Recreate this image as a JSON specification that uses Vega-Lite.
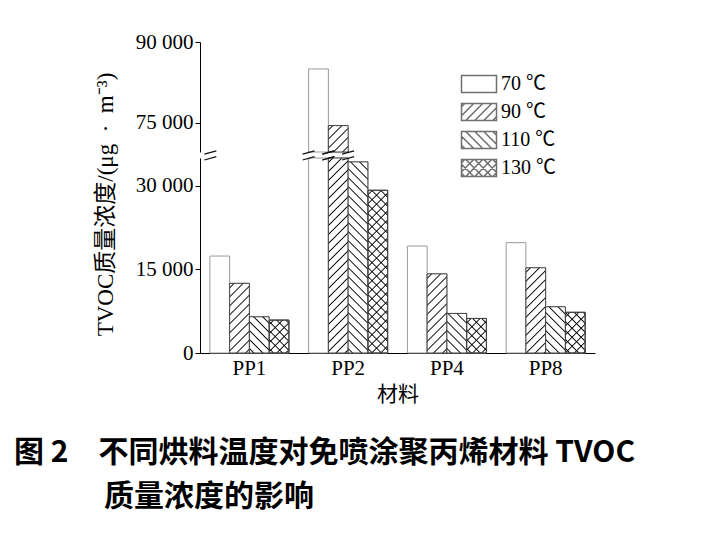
{
"$schema": "https://vega.github.io/schema/vega-lite/v6.json",
"autosize": {"type": "none"},
"padding": {"left": 200, "top": 42, "right": 130, "bottom": 191},
"width": 395,
"height": 311,
"background": "white",
"config": {"view": {"stroke": null}, "font": "Liberation Serif"},
"params": [
{"name": "hatchW", "value": [
{"offset":0.015,"color":"#fff"},{"offset":0.021,"color":"#000"},{"offset":0.027,"color":"#fff"},
{"offset":0.0567,"color":"#fff"},{"offset":0.0627,"color":"#000"},{"offset":0.0687,"color":"#fff"},
{"offset":0.0983,"color":"#fff"},{"offset":0.1043,"color":"#000"},{"offset":0.1103,"color":"#fff"},
{"offset":0.14,"color":"#fff"},{"offset":0.146,"color":"#000"},{"offset":0.152,"color":"#fff"},
{"offset":0.1817,"color":"#fff"},{"offset":0.1877,"color":"#000"},{"offset":0.1937,"color":"#fff"},
{"offset":0.2233,"color":"#fff"},{"offset":0.2293,"color":"#000"},{"offset":0.2353,"color":"#fff"},
{"offset":0.265,"color":"#fff"},{"offset":0.271,"color":"#000"},{"offset":0.277,"color":"#fff"},
{"offset":0.3067,"color":"#fff"},{"offset":0.3127,"color":"#000"},{"offset":0.3187,"color":"#fff"},
{"offset":0.3483,"color":"#fff"},{"offset":0.3543,"color":"#000"},{"offset":0.3603,"color":"#fff"},
{"offset":0.39,"color":"#fff"},{"offset":0.396,"color":"#000"},{"offset":0.402,"color":"#fff"},
{"offset":0.4317,"color":"#fff"},{"offset":0.4377,"color":"#000"},{"offset":0.4437,"color":"#fff"},
{"offset":0.4733,"color":"#fff"},{"offset":0.4793,"color":"#000"},{"offset":0.4853,"color":"#fff"},
{"offset":0.515,"color":"#fff"},{"offset":0.521,"color":"#000"},{"offset":0.527,"color":"#fff"},
{"offset":0.5567,"color":"#fff"},{"offset":0.5627,"color":"#000"},{"offset":0.5687,"color":"#fff"},
{"offset":0.5983,"color":"#fff"},{"offset":0.6043,"color":"#000"},{"offset":0.6103,"color":"#fff"},
{"offset":0.64,"color":"#fff"},{"offset":0.646,"color":"#000"},{"offset":0.652,"color":"#fff"},
{"offset":0.6817,"color":"#fff"},{"offset":0.6877,"color":"#000"},{"offset":0.6937,"color":"#fff"},
{"offset":0.7233,"color":"#fff"},{"offset":0.7293,"color":"#000"},{"offset":0.7353,"color":"#fff"},
{"offset":0.765,"color":"#fff"},{"offset":0.771,"color":"#000"},{"offset":0.777,"color":"#fff"},
{"offset":0.8067,"color":"#fff"},{"offset":0.8127,"color":"#000"},{"offset":0.8187,"color":"#fff"},
{"offset":0.8483,"color":"#fff"},{"offset":0.8543,"color":"#000"},{"offset":0.8603,"color":"#fff"},
{"offset":0.89,"color":"#fff"},{"offset":0.896,"color":"#000"},{"offset":0.902,"color":"#fff"},
{"offset":0.9317,"color":"#fff"},{"offset":0.9377,"color":"#000"},{"offset":0.9437,"color":"#fff"},
{"offset":0.9733,"color":"#fff"},{"offset":0.9793,"color":"#000"},{"offset":0.9853,"color":"#fff"}
]},
{"name": "hatchT", "value": [
{"offset":0.015,"color":"rgba(0,0,0,0)"},{"offset":0.021,"color":"#000"},{"offset":0.027,"color":"rgba(0,0,0,0)"},
{"offset":0.0567,"color":"rgba(0,0,0,0)"},{"offset":0.0627,"color":"#000"},{"offset":0.0687,"color":"rgba(0,0,0,0)"},
{"offset":0.0983,"color":"rgba(0,0,0,0)"},{"offset":0.1043,"color":"#000"},{"offset":0.1103,"color":"rgba(0,0,0,0)"},
{"offset":0.14,"color":"rgba(0,0,0,0)"},{"offset":0.146,"color":"#000"},{"offset":0.152,"color":"rgba(0,0,0,0)"},
{"offset":0.1817,"color":"rgba(0,0,0,0)"},{"offset":0.1877,"color":"#000"},{"offset":0.1937,"color":"rgba(0,0,0,0)"},
{"offset":0.2233,"color":"rgba(0,0,0,0)"},{"offset":0.2293,"color":"#000"},{"offset":0.2353,"color":"rgba(0,0,0,0)"},
{"offset":0.265,"color":"rgba(0,0,0,0)"},{"offset":0.271,"color":"#000"},{"offset":0.277,"color":"rgba(0,0,0,0)"},
{"offset":0.3067,"color":"rgba(0,0,0,0)"},{"offset":0.3127,"color":"#000"},{"offset":0.3187,"color":"rgba(0,0,0,0)"},
{"offset":0.3483,"color":"rgba(0,0,0,0)"},{"offset":0.3543,"color":"#000"},{"offset":0.3603,"color":"rgba(0,0,0,0)"},
{"offset":0.39,"color":"rgba(0,0,0,0)"},{"offset":0.396,"color":"#000"},{"offset":0.402,"color":"rgba(0,0,0,0)"},
{"offset":0.4317,"color":"rgba(0,0,0,0)"},{"offset":0.4377,"color":"#000"},{"offset":0.4437,"color":"rgba(0,0,0,0)"},
{"offset":0.4733,"color":"rgba(0,0,0,0)"},{"offset":0.4793,"color":"#000"},{"offset":0.4853,"color":"rgba(0,0,0,0)"},
{"offset":0.515,"color":"rgba(0,0,0,0)"},{"offset":0.521,"color":"#000"},{"offset":0.527,"color":"rgba(0,0,0,0)"},
{"offset":0.5567,"color":"rgba(0,0,0,0)"},{"offset":0.5627,"color":"#000"},{"offset":0.5687,"color":"rgba(0,0,0,0)"},
{"offset":0.5983,"color":"rgba(0,0,0,0)"},{"offset":0.6043,"color":"#000"},{"offset":0.6103,"color":"rgba(0,0,0,0)"},
{"offset":0.64,"color":"rgba(0,0,0,0)"},{"offset":0.646,"color":"#000"},{"offset":0.652,"color":"rgba(0,0,0,0)"},
{"offset":0.6817,"color":"rgba(0,0,0,0)"},{"offset":0.6877,"color":"#000"},{"offset":0.6937,"color":"rgba(0,0,0,0)"},
{"offset":0.7233,"color":"rgba(0,0,0,0)"},{"offset":0.7293,"color":"#000"},{"offset":0.7353,"color":"rgba(0,0,0,0)"},
{"offset":0.765,"color":"rgba(0,0,0,0)"},{"offset":0.771,"color":"#000"},{"offset":0.777,"color":"rgba(0,0,0,0)"},
{"offset":0.8067,"color":"rgba(0,0,0,0)"},{"offset":0.8127,"color":"#000"},{"offset":0.8187,"color":"rgba(0,0,0,0)"},
{"offset":0.8483,"color":"rgba(0,0,0,0)"},{"offset":0.8543,"color":"#000"},{"offset":0.8603,"color":"rgba(0,0,0,0)"},
{"offset":0.89,"color":"rgba(0,0,0,0)"},{"offset":0.896,"color":"#000"},{"offset":0.902,"color":"rgba(0,0,0,0)"},
{"offset":0.9317,"color":"rgba(0,0,0,0)"},{"offset":0.9377,"color":"#000"},{"offset":0.9437,"color":"rgba(0,0,0,0)"},
{"offset":0.9733,"color":"rgba(0,0,0,0)"},{"offset":0.9793,"color":"#000"},{"offset":0.9853,"color":"rgba(0,0,0,0)"}
]}
],
"data": {"values": [
{"material":"PP1","temp":"70 ℃","value":17400},
{"material":"PP1","temp":"90 ℃","value":12500},
{"material":"PP1","temp":"110 ℃","value":6500},
{"material":"PP1","temp":"130 ℃","value":5900},
{"material":"PP2","temp":"70 ℃","value":85000},
{"material":"PP2","temp":"90 ℃","value":74500},
{"material":"PP2","temp":"110 ℃","value":34300},
{"material":"PP2","temp":"130 ℃","value":29200},
{"material":"PP4","temp":"70 ℃","value":19200},
{"material":"PP4","temp":"90 ℃","value":14200},
{"material":"PP4","temp":"110 ℃","value":7100},
{"material":"PP4","temp":"130 ℃","value":6200},
{"material":"PP8","temp":"70 ℃","value":19800},
{"material":"PP8","temp":"90 ℃","value":15300},
{"material":"PP8","temp":"110 ℃","value":8300},
{"material":"PP8","temp":"130 ℃","value":7300}
]},
"title": {
"text": ["图 2　不同烘料温度对免喷涂聚丙烯材料 TVOC", "\u200B　　　质量浓度的影响"],
"orient": "bottom", "anchor": "start", "frame": "group",
"dx": -186, "offset": 34,
"font": "Noto Sans CJK SC", "fontSize": 30, "fontWeight": "bold", "lineHeight": 44, "color": "#000"
},
"encoding": {
"x": {"field": "material", "type": "nominal",
 "scale": {"domain": ["PP1","PP2","PP4","PP8"], "paddingInner": 0.2, "paddingOuter": 0.1},
 "axis": {"title": "材料", "labelFont": "Liberation Serif", "labelFontSize": 21, "labelColor": "#000", "labelAngle": 0, "labelPadding": 4, "ticks": false, "domainColor": "#000", "titleFont": "Noto Sans CJK SC", "titleFontSize": 21, "titleFontWeight": "normal", "titleColor": "#000", "titlePadding": 5}}
},
"layer": [
{
 "transform": [{"filter": "datum.value > 69600"}],
 "encoding": {
  "y": {"field": "value", "type": "quantitative",
   "scale": {"domain": [69600, 90000], "range": [110, 0], "clamp": true},
   "axis": {"orient": "left", "values": [75000, 90000], "labelExpr": "replace(format(datum.value, ','), ',', ' ')", "title": null, "grid": false, "labelFont": "Liberation Serif", "labelFontSize": 21, "labelColor": "#000", "tickColor": "#000", "tickSize": 5, "labelPadding": 2, "domainColor": "#000"}},
  "xOffset": {"field": "temp", "type": "nominal", "scale": {"domain": ["70 ℃","90 ℃","110 ℃","130 ℃"], "paddingInner": 0, "paddingOuter": 0}}
 },
 "layer": [
  {"mark": {"type": "bar", "fill": "white", "stroke": "#999", "strokeWidth": 1}},
  {"transform": [{"filter": "datum.temp == '90 ℃'"}],
   "mark": {"type": "bar", "stroke": "#444", "strokeWidth": 1,
    "fill": {"expr": "{gradient:'linear',x1:0,y1:0,x2:4266/(390.0625+pow((datum.value-69600)*0.0053922,2)),y2:216*(datum.value-69600)*0.0053922/(390.0625+pow((datum.value-69600)*0.0053922,2)),stops:hatchW}"}}}
 ]
},
{
 "encoding": {
  "y": {"field": "value", "type": "quantitative",
   "scale": {"domain": [0, 35000], "range": [311, 116], "clamp": true},
   "axis": {"orient": "left", "values": [0, 15000, 30000], "labelExpr": "replace(format(datum.value, ','), ',', ' ')", "grid": false, "labelFont": "Liberation Serif", "labelFontSize": 21, "labelColor": "#000", "tickColor": "#000", "tickSize": 5, "labelPadding": 2, "domainColor": "#000",
    "title": "TVOC质量浓度/(μg\u2002·\u2002m⁻³)", "titleFont": "Liberation Serif, Noto Sans CJK SC", "titleFontSize": 23, "titleFontWeight": "normal", "titleColor": "#000", "titleX": -95, "titleY": 162, "titleAngle": -90, "titleBaseline": "middle", "titleAlign": "center"}},
  "xOffset": {"field": "temp", "type": "nominal", "scale": {"domain": ["70 ℃","90 ℃","110 ℃","130 ℃"], "paddingInner": 0, "paddingOuter": 0}}
 },
 "layer": [
  {"mark": {"type": "point", "filled": true, "fill": "white", "stroke": "#333", "strokeWidth": 1, "size": 289},
   "encoding": {"x": {"datum": "PP2", "type": "nominal"}, "xOffset": {"datum": "110 ℃", "type": "nominal"}, "y": {"datum": 10000, "type": "quantitative"},
    "shape": {"field": "temp", "type": "nominal",
     "scale": {"domain": ["70 ℃","90 ℃","110 ℃","130 ℃"], "range": [
      "M-2.059,-1L2.059,-1L2.059,1L-2.059,1Z",
      "M-2.059,-1L2.059,-1L2.059,1L-2.059,1ZM-2.059,-0.618L-1.676,-1M-2.059,0.441L-0.618,-1M-1.561,1L0.441,-1M-0.502,1L1.499,-1M0.556,1L2.059,-0.502M1.614,1L2.059,0.556",
      "M-2.059,-1L2.059,-1L2.059,1L-2.059,1ZM-2.059,0.618L-1.676,1M-2.059,-0.441L-0.618,1M-1.561,-1L0.441,1M-0.502,-1L1.499,1M0.556,-1L2.059,0.502M1.614,-1L2.059,-0.556",
      "M-2.059,-1L2.059,-1L2.059,1L-2.059,1ZM-2.059,-0.618L-1.676,-1M-2.059,0.441L-0.618,-1M-1.561,1L0.441,-1M-0.502,1L1.499,-1M0.556,1L2.059,-0.502M1.614,1L2.059,0.556M-2.059,0.618L-1.676,1M-2.059,-0.441L-0.618,1M-1.561,-1L0.441,1M-0.502,-1L1.499,1M0.556,-1L2.059,0.502M1.614,-1L2.059,-0.556"
     ]},
     "legend": {"title": null, "orient": "none", "legendX": 269, "legendY": 32, "padding": 0, "symbolSize": 289, "labelFont": "Liberation Serif, Noto Sans CJK SC", "labelFontSize": 20, "labelColor": "#000", "labelOffset": 12, "rowPadding": 4}}}},
  {"mark": {"type": "bar", "fill": "white", "stroke": "#999", "strokeWidth": 1}},
  {"transform": [{"filter": "datum.temp == '90 ℃' || datum.temp == '130 ℃'"}],
   "mark": {"type": "bar", "stroke": "#444", "strokeWidth": 1,
    "fill": {"expr": "{gradient:'linear',x1:0,y1:0,x2:4266/(390.0625+pow(min(datum.value,35000)*0.0055714,2)),y2:216*min(datum.value,35000)*0.0055714/(390.0625+pow(min(datum.value,35000)*0.0055714,2)),stops:hatchW}"}}},
  {"transform": [{"filter": "datum.temp == '110 ℃'"}],
   "mark": {"type": "bar", "stroke": "#444", "strokeWidth": 1,
    "fill": {"expr": "{gradient:'linear',x1:0,y1:1,x2:4266/(390.0625+pow(min(datum.value,35000)*0.0055714,2)),y2:1-216*min(datum.value,35000)*0.0055714/(390.0625+pow(min(datum.value,35000)*0.0055714,2)),stops:hatchW}"}}},
  {"transform": [{"filter": "datum.temp == '130 ℃'"}],
   "mark": {"type": "bar", "stroke": "#444", "strokeWidth": 1,
    "fill": {"expr": "{gradient:'linear',x1:0,y1:1,x2:4266/(390.0625+pow(min(datum.value,35000)*0.0055714,2)),y2:1-216*min(datum.value,35000)*0.0055714/(390.0625+pow(min(datum.value,35000)*0.0055714,2)),stops:hatchT}"}}},
  {"transform": [{"filter": "datum.value > 35000"}],
   "mark": {"type": "point", "shape": "M-1.5875,-0.38L-0.3875,-0.72M-1.5875,0.2L-0.3875,-0.14M0.3875,-0.38L1.5875,-0.72M0.3875,0.2L1.5875,-0.14", "size": 400, "filled": false, "stroke": "#111", "strokeWidth": 1.2, "opacity": 1},
   "encoding": {"y": {"datum": 35000, "type": "quantitative"}}},
  {"transform": [{"filter": "datum.material == 'PP1' && datum.temp == '70 ℃'"}],
   "mark": {"type": "point", "shape": "M-1.54,-0.38L-0.34,-0.72M-1.54,0.2L-0.34,-0.14", "size": 400, "filled": false, "stroke": "#111", "strokeWidth": 1.2, "opacity": 1},
   "encoding": {"x": {"datum": "PP1", "type": "nominal", "bandPosition": 0}, "xOffset": {"datum": "70 ℃", "type": "nominal", "bandPosition": 0}, "y": {"datum": 35000, "type": "quantitative"}}}
 ]
}
],
"resolve": {"scale": {"y": "independent"}, "axis": {"y": "independent"}}
}
